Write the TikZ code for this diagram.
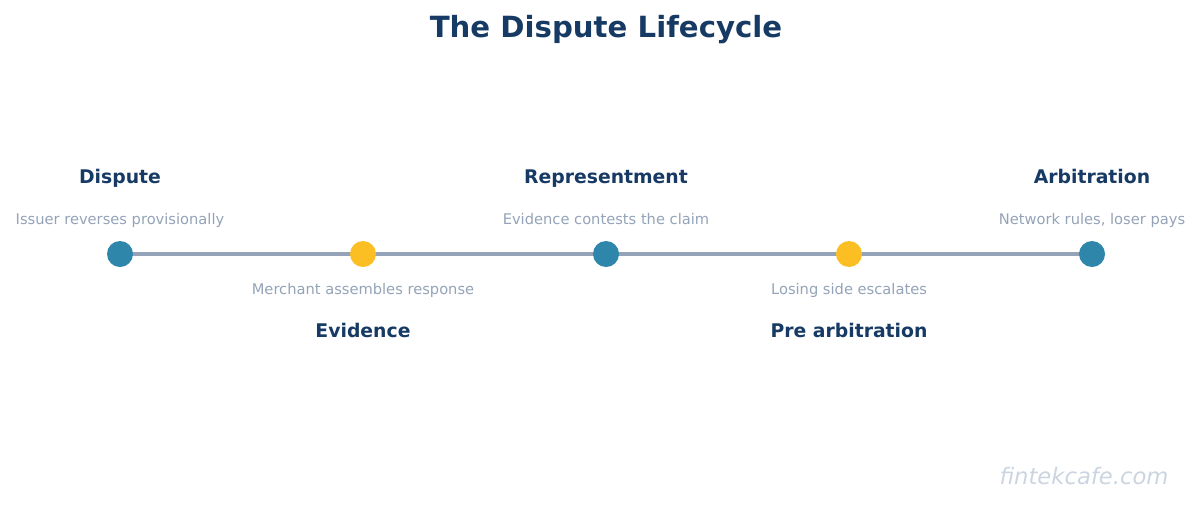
\documentclass[tikz,border=0pt]{standalone}
\usepackage{fontspec}
\setmainfont{DejaVu Sans}
\usepackage{tikz}
\usetikzlibrary{positioning}
\definecolor{headCol}{HTML}{163A63}
\definecolor{noteCol}{HTML}{94A3B8}
\definecolor{railCol}{HTML}{94A3B8}
\definecolor{tealCol}{HTML}{2E86AB}
\definecolor{goldCol}{HTML}{FBBF24}
\definecolor{markCol}{HTML}{CBD5E1}
\tikzset{
  stage/.style={font=\fontsize{14.1}{17}\selectfont\bfseries, text=headCol, inner sep=0pt, anchor=base},
  note/.style={font=\fontsize{11}{13}\selectfont, text=noteCol, inner sep=0pt, anchor=base},
  dot/.style={circle, fill=#1, minimum size=19.5pt, inner sep=0pt},
  rail/.style={draw=railCol, line width=3pt},
}

\begin{document}
\begin{tikzpicture}[x=0.75pt, y=-0.75pt]
  \useasboundingbox (0,0) rectangle (1199,504);
  \node[font=\fontsize{21.9}{26}\selectfont\bfseries, text=headCol, inner sep=0pt, anchor=base]
       (title) at (606,37) {The Dispute Lifecycle};
  % --- timeline ---
  \coordinate (r0) at (120,254);
  \coordinate (r4) at (1092,254);
  \draw[rail] (r0) -- (r4);
  \node[dot=tealCol] (d0) at (120,254) {};
  \node[dot=goldCol] (d1) at (363,254) {};
  \node[dot=tealCol] (d2) at (606,254) {};
  \node[dot=goldCol] (d3) at (849,254) {};
  \node[dot=tealCol] (d4) at (1092,254) {};
  % labels above the rail
  \foreach \i/\s/\t in {0/Dispute/Issuer reverses provisionally,
                        2/Representment/Evidence contests the claim,
                        4/Arbitration/{Network rules, loser pays}} {
    \node[stage] (s\i) at ([yshift=53pt]d\i) {\s};
    \node[note] (n\i) at ([yshift=22.5pt]d\i) {\t};
  }
  % labels below the rail
  \foreach \i/\s/\t in {1/Evidence/Merchant assembles response,
                        3/Pre arbitration/Losing side escalates} {
    \node[note] (n\i) at ([yshift=-30pt]d\i) {\t};
    \node[stage] (s\i) at ([yshift=-62.25pt]d\i) {\s};
  }
  \node[font=\fontsize{17}{20}\selectfont\itshape, text=markCol, inner sep=0pt, anchor=base]
       (mark) at (1084,484) {fintekcafe.com};
\end{tikzpicture}
\end{document}
